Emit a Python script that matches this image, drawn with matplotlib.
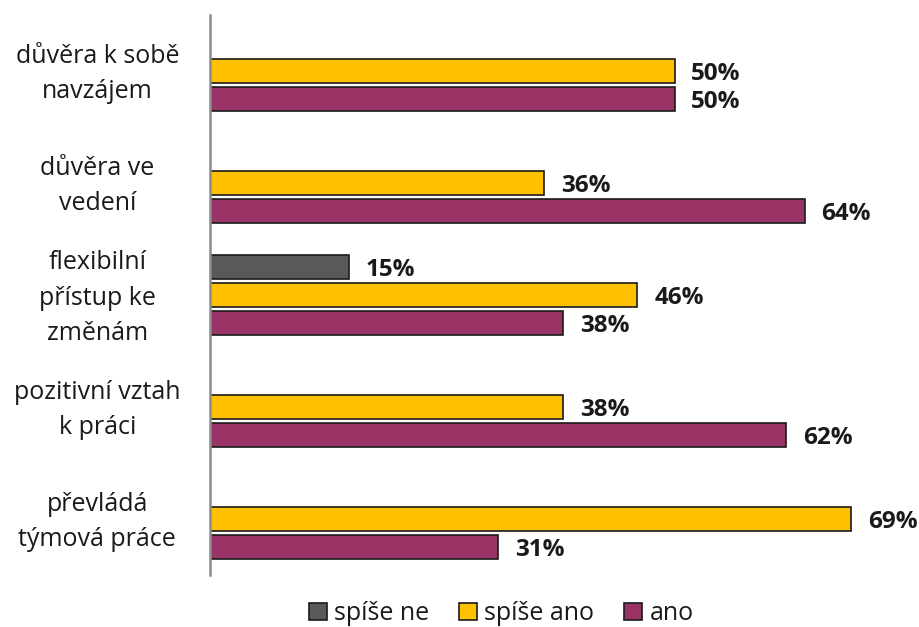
import matplotlib.pyplot as plt
import matplotlib.transforms as mtransforms
import numpy as np

plt.rcParams['font.family'] = ['Open Sans', 'DejaVu Sans']

categories = ['důvěra k sobě\nnavzájem', 'důvěra ve\nvedení', 'flexibilní\npřístup ke\nzměnám',
              'pozitivní vztah\nk práci', 'převládá\ntýmová práce']
series_names = ['spíše ne', 'spíše ano', 'ano']
spise_ne = [0, 0, 15, 0, 0]
spise_ano = [50, 36, 46, 38, 69]
ano = [50, 64, 38, 62, 31]
colors = ['#595959', '#FFC000', '#993366']

fig = plt.figure(figsize=(9.2, 6.27), dpi=100)
ax = fig.add_axes([0.228, 0.083, 0.758, 0.893])

y = np.arange(len(categories))
offsets = [-0.25, 0, 0.25]
for vals, name, col, off in zip([spise_ne, spise_ano, ano], series_names, colors, offsets):
    vals = np.array(vals)
    bars = ax.barh(y + off, vals, height=0.22, color=col, edgecolor='#1a1a1a',
                   linewidth=1.2, label=name)
    for b, v in zip(bars, vals):
        if v > 0:
            ax.annotate(f'{v}%', (v, b.get_y() + b.get_height() / 2),
                        xytext=(12, -2), textcoords='offset points',
                        va='center', ha='left', fontsize=17.5, fontweight='bold',
                        color='#1a1a1a')

ax.set_xlim(0, 75)
ax.set_ylim(len(categories) - 0.5, -0.5)
ax.set_yticks(y)
ax.set_yticklabels(categories, fontsize=18, color='#1a1a1a', ha='center',
                   linespacing=1.55)
ax.tick_params(axis='y', length=0, pad=81)
# nudge category labels up a little
shift = mtransforms.ScaledTranslation(0, 0.05, fig.dpi_scale_trans)
for lab in ax.get_yticklabels():
    lab.set_transform(lab.get_transform() + shift)
ax.set_xticks([])
for s in ['top', 'right', 'bottom']:
    ax.spines[s].set_visible(False)
ax.spines['left'].set_color('#8c8c8c')
ax.spines['left'].set_linewidth(1.8)

fig.legend(loc='lower center', bbox_to_anchor=(0.545, -0.035), ncol=3, frameon=False,
           fontsize=18, handlelength=0.7, handleheight=0.7, handletextpad=0.3,
           columnspacing=1.2, labelcolor='#1a1a1a')

fig.savefig('out.png', dpi=100)
